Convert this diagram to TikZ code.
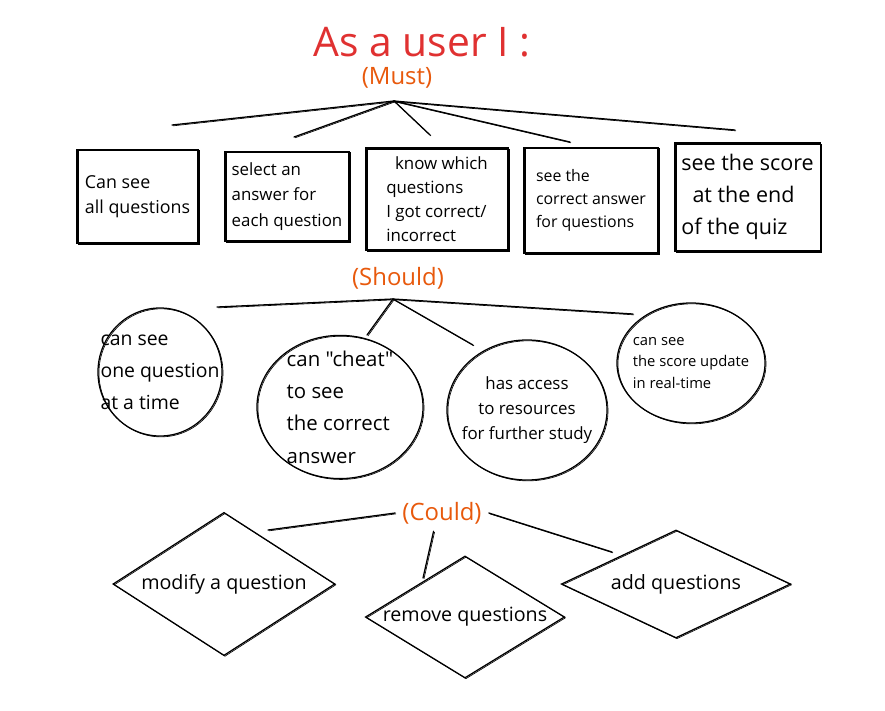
\documentclass[tikz,border=0pt]{standalone}
\usepackage{fontspec}
\setmainfont{Open Sans}
\newfontfamily\straightq{Open Sans}
\usetikzlibrary{shapes.geometric}
\definecolor{inkred}{HTML}{E03131}
\definecolor{inkorange}{HTML}{E8590C}
\tikzset{
  pen/.style={
    draw=black,
    line width=0.9pt,
    preaction={draw=black, line width=0.45pt, transform canvas={shift={(0.7pt,-0.6pt)}}}
  },
  story/.style={rectangle, pen, align=left, inner sep=2pt},
  wish/.style={ellipse, pen, inner sep=0pt},
  extra/.style={diamond, pen, inner sep=-3pt, font=\fontsize{14}{16}\selectfont},
  tier/.style={text=inkorange, font=\fontsize{17}{20}\selectfont, inner sep=5pt},
  link/.style={pen, line cap=round}
}

\begin{document}
\begin{tikzpicture}[x=0.025cm, y=-0.025cm]
  \useasboundingbox[fill=white] (0,0) rectangle (885,710);

  % heading
  \node[text=inkred, font=\fontsize{29}{33}\selectfont] (title) at (422,42) {As a user I :};

  % must
  \node[tier] (must) at (397,78) {(Must)};
  \coordinate (mhub) at (394,101);
  \coordinate (m1) at (172,125);
  \coordinate (m2) at (294,137);
  \coordinate (m3) at (430,135);
  \coordinate (m4) at (570,142);
  \coordinate (m5) at (735,130);
  \foreach \e in {m1,m2,m3,m4,m5}
    \draw[link] (mhub) -- (\e);

  \node[story, minimum width=3.03cm, minimum height=2.33cm, font=\fontsize{12.7}{18}\selectfont] (allq) at (137.5,196.5) {Can see\\all questions};
  \node[story, minimum width=3.1cm, minimum height=2.23cm, font=\fontsize{12}{18}\selectfont] (select) at (287,196.5) {select an\\answer for\\each question};
  \node[story, minimum width=3.55cm, minimum height=2.55cm, font=\fontsize{12}{17}\selectfont] (know) at (437,199) {\ \ know which\\questions\\I got correct/\\incorrect};
  \node[story, minimum width=3.35cm, minimum height=2.63cm, font=\fontsize{11.3}{16.4}\selectfont] (correct) at (591,200.5) {see the\\correct answer\\for questions};
  \node[story, minimum width=3.63cm, minimum height=2.7cm, font=\fontsize{15.3}{23}\selectfont] (score) at (747.5,197) {see the score\\\ \ at the end\\of the quiz};

  % should
  \node[tier] (should) at (398,278) {(Should)};
  \coordinate (shub) at (393,299);
  \coordinate (s1) at (217,307);
  \coordinate (s2) at (367,335);
  \coordinate (s3) at (473,345);
  \coordinate (s4) at (633,314);
  \foreach \e in {s1,s2,s3,s4}
    \draw[link] (shub) -- (\e);

  \node[wish, minimum width=3.1cm, minimum height=3.2cm,
    label={[align=left, font=\fontsize{13.8}{22.8}\selectfont]center:{can see\\one question\\at a time}}] (oneq) at (160,372) {};
  \node[wish, minimum width=4.15cm, minimum height=3.58cm,
    label={[align=left, font=\straightq\fontsize{14.5}{23}\selectfont]center:{can "cheat"\\to see\\the correct\\answer}}] (cheat) at (340,407) {};
  \node[wish, minimum width=4.0cm, minimum height=3.5cm,
    label={[align=center, font=\fontsize{12}{17.8}\selectfont]center:{has access\\to resources\\for further study}}] (study) at (527,410) {};
  \node[wish, minimum width=3.7cm, minimum height=3.0cm,
    label={[align=left, font=\fontsize{10.5}{15.3}\selectfont]center:{can see\\the score update\\in real-time}}] (live) at (691,363) {};

  % could
  \node[tier] (could) at (442,513) {(Could)};
  \coordinate (c1) at (268,530);
  \coordinate (c2) at (423,578);
  \coordinate (c3) at (612,552);
  \draw[link] (could.west) -- (c1);
  \draw[link] ([xshift=-6pt]could.south) -- (c2);
  \draw[link] (could.east) -- (c3);

  \node[extra, aspect=1.55, minimum width=5.55cm, minimum height=3.58cm] (modify) at (224,584) {modify a question};
  \node[extra, aspect=1.63, minimum width=4.98cm, minimum height=3.05cm] (remove) at (465,617) {remove questions};
  \node[extra, aspect=2.12, minimum width=5.73cm, minimum height=2.7cm] (add) at (676,584) {add questions};
\end{tikzpicture}
\end{document}
